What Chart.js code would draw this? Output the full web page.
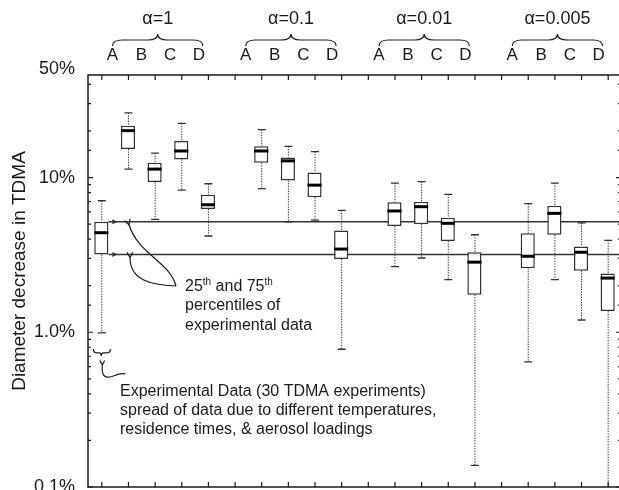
<!DOCTYPE html>
<html><head><meta charset="utf-8">
<script src="https://cdn.jsdelivr.net/npm/chart.js@4.4.1/dist/chart.umd.min.js"></script>
<style>html,body{margin:0;padding:0;overflow:hidden;background:#fff}#wrap{width:622px;height:490px;position:relative}</style>
</head><body><div id="wrap"><canvas id="c" width="622" height="490"></canvas></div>
<script>
// ---- data (percent) ----
const categories = ['Exp', 'A','B','C','D', '', 'A','B','C','D', '', 'A','B','C','D', '', 'A','B','C','D'];
const groupLabels = ['α=1', 'α=0.1', 'α=0.01', 'α=0.005'];
const letterLabels = ['A', 'B', 'C', 'D'];
const yTickValues = [0.1, 1, 10, 50];
const yTickTexts = ['0.1%', '1.0%', '10%', '50%'];
const whiskerHigh = [7.08, 26.2, 14.4, 22.4, 9.12, null, 20.4, 15.9, 14.7, 6.14, null, 9.21, 9.40, 7.79, 4.27, null, 6.78, 9.21, 5.09, 3.93];
const q3          = [5.18, 21.6, 12.45, 17.25, 7.73, null, 15.96, 13.47, 10.79, 4.54, null, 6.92, 6.98, 5.50, 3.29, null, 4.36, 6.57, 3.59, 2.40];
const median      = [4.40, 20.1, 11.34, 14.85, 6.67, null, 14.85, 12.82, 8.93, 3.45, null, 6.08, 6.48, 5.06, 2.84, null, 3.10, 5.87, 3.29, 2.24];
const q1          = [3.18, 15.31, 9.35, 13.10, 6.27, null, 12.45, 9.58, 7.45, 2.98, null, 4.86, 4.99, 3.89, 1.75, null, 2.59, 4.27, 2.50, 1.37];
const whiskerLow  = [0.99, 11.34, 5.37, 8.29, 4.19, null, 8.47, 5.18, 5.30, 0.777, null, 2.66, 3.02, 2.19, 0.138, null, 0.643, 2.19, 1.20, 0.08];
const yMin = 0.1, yMax = 46;
const refUpper = q3[0];  // 75th percentile of experimental data
const refLower = q1[0];  // 25th percentile of experimental data

const FONT = '"Liberation Sans", Arial, sans-serif';
const INK = '#1a1a1a';

function brace(ctx, x0, x1, yb, h) {
  const xm = (x0 + x1) / 2, r = h / 2;
  ctx.beginPath();
  ctx.moveTo(x0, yb);
  ctx.quadraticCurveTo(x0, yb - r, x0 + r * 1.6, yb - r);
  ctx.lineTo(xm - r * 1.6, yb - r);
  ctx.quadraticCurveTo(xm, yb - r, xm, yb - 2 * r);
  ctx.quadraticCurveTo(xm, yb - r, xm + r * 1.6, yb - r);
  ctx.lineTo(x1 - r * 1.6, yb - r);
  ctx.quadraticCurveTo(x1, yb - r, x1, yb);
  ctx.stroke();
}
function arrowHead(ctx, tx, ty, ang, len) {
  ctx.beginPath();
  ctx.moveTo(tx + len * Math.cos(ang + 0.5), ty + len * Math.sin(ang + 0.5));
  ctx.lineTo(tx, ty);
  ctx.lineTo(tx + len * Math.cos(ang - 0.5), ty + len * Math.sin(ang - 0.5));
  ctx.stroke();
}
function supText(ctx, parts, x, y, size) {
  let cx = x;
  parts.forEach(p => {
    if (p.sup) {
      ctx.font = Math.round(size * 0.62) + 'px ' + FONT;
      ctx.fillText(p.t, cx, y - size * 0.38);
    } else {
      ctx.font = size + 'px ' + FONT;
      ctx.fillText(p.t, cx, y);
    }
    cx += ctx.measureText(p.t).width;
  });
}

const boxPlugin = {
  id: 'boxExtras',
  beforeDatasetsDraw(chart) {
    const { ctx, chartArea: a, scales: { x, y } } = chart;
    const half = chart.getDatasetMeta(0).data[1].width / 2;
    ctx.save();
    ctx.beginPath(); ctx.rect(a.left, a.top, a.right - a.left, a.bottom - a.top); ctx.clip();
    // reference lines from experimental quartiles
    const sx = x.getPixelForValue(0) + half;
    [refUpper, refLower].forEach(v => {
      const yy = y.getPixelForValue(v);
      ctx.strokeStyle = '#333'; ctx.lineWidth = 1.4; ctx.setLineDash([]);
      ctx.beginPath(); ctx.moveTo(sx, yy); ctx.lineTo(a.right, yy); ctx.stroke();
      ctx.fillStyle = '#333';
      ctx.beginPath(); ctx.moveTo(sx + 9, yy); ctx.lineTo(sx + 4, yy - 2.5); ctx.lineTo(sx + 4, yy + 2.5); ctx.closePath(); ctx.fill();
    });
    // whiskers
    for (let i = 0; i < categories.length; i++) {
      if (q1[i] == null) continue;
      const cx = x.getPixelForValue(i);
      const yHi = y.getPixelForValue(whiskerHigh[i]), yQ3 = y.getPixelForValue(q3[i]);
      const yQ1 = y.getPixelForValue(q1[i]), yLo = y.getPixelForValue(whiskerLow[i]);
      ctx.strokeStyle = '#333'; ctx.lineWidth = 1; ctx.setLineDash([1.3, 1.3]);
      ctx.beginPath(); ctx.moveTo(cx + 0.5, yHi); ctx.lineTo(cx + 0.5, yQ3); ctx.moveTo(cx + 0.5, yQ1); ctx.lineTo(cx + 0.5, yLo); ctx.stroke();
      ctx.setLineDash([]); ctx.lineWidth = 1.3;
      ctx.beginPath(); ctx.moveTo(cx - 3.5, yHi); ctx.lineTo(cx + 4.5, yHi); ctx.moveTo(cx - 3.5, yLo); ctx.lineTo(cx + 4.5, yLo); ctx.stroke();
    }
    ctx.restore();
  },
  afterDatasetsDraw(chart) {
    const { ctx, chartArea: a, scales: { x, y } } = chart;
    const half = chart.getDatasetMeta(0).data[1].width / 2;
    ctx.save();
    // medians
    ctx.strokeStyle = '#000'; ctx.lineWidth = 3;
    for (let i = 0; i < categories.length; i++) {
      if (median[i] == null) continue;
      const cx = x.getPixelForValue(i), ym = y.getPixelForValue(median[i]);
      ctx.beginPath(); ctx.moveTo(cx - half, ym); ctx.lineTo(cx + half, ym); ctx.stroke();
    }
    // frame
    ctx.strokeStyle = INK; ctx.lineWidth = 1.5;
    ctx.strokeRect(a.left, a.top, a.right - a.left, a.bottom - a.top);
    // category ticks (top & bottom, inward)
    ctx.lineWidth = 1.2;
    for (let i = 0; i < categories.length; i++) {
      const cx = x.getPixelForValue(i) + 0.5;
      ctx.beginPath();
      ctx.moveTo(cx, a.top); ctx.lineTo(cx, a.top + 5);
      ctx.moveTo(cx, a.bottom); ctx.lineTo(cx, a.bottom - 5);
      ctx.stroke();
    }
    // log ticks (left & right, inward)
    y.ticks.forEach(t => {
      if (t.value < yMin || t.value >= yMax) return;
      const yy = y.getPixelForValue(t.value);
      const lg = Math.log10(t.value);
      const major = Math.abs(lg - Math.round(lg)) < 1e-6;
      const len = major ? 5 : 3;
      ctx.beginPath();
      ctx.moveTo(a.left, yy); ctx.lineTo(a.left + len, yy);
      ctx.moveTo(a.right, yy); ctx.lineTo(a.right - len, yy);
      ctx.stroke();
    });
    ctx.restore();
  },
  afterDraw(chart) {
    const { ctx, chartArea: a, scales: { x, y } } = chart;
    ctx.save();
    ctx.fillStyle = INK; ctx.strokeStyle = INK;
    // y title
    ctx.save();
    ctx.translate(20, 271); ctx.rotate(-Math.PI / 2);
    ctx.font = '19px ' + FONT; ctx.textAlign = 'center'; ctx.textBaseline = 'middle';
    ctx.fillText('Diameter decrease in TDMA', 0, 0);
    ctx.restore();
    // top group labels
    const step = 1.08, off = 0.42;
    ctx.textAlign = 'center'; ctx.textBaseline = 'middle';
    groupLabels.forEach((g, gi) => {
      const base = gi * 5 + off;
      letterLabels.forEach((L, li) => {
        ctx.font = '17px ' + FONT;
        ctx.fillText(L, x.getPixelForValue(base + li * step), 55);
      });
      const xA = x.getPixelForValue(base), xD = x.getPixelForValue(base + 3 * step) + 4;
      ctx.lineWidth = 1.2;
      brace(ctx, xA, xD, 46, 12);
      ctx.font = '18px ' + FONT;
      ctx.fillText(g, (xA + xD) / 2, 19);
    });
    // annotation: percentiles
    ctx.textAlign = 'left'; ctx.textBaseline = 'alphabetic';
    supText(ctx, [{ t: '25' }, { t: 'th', sup: 1 }, { t: ' and 75' }, { t: 'th', sup: 1 }], 185, 291, 16);
    ctx.font = '16px ' + FONT;
    ctx.fillText('percentiles of', 185, 310);
    ctx.fillText('experimental data', 185, 330);
    const yU = y.getPixelForValue(refUpper), yL = y.getPixelForValue(refLower);
    ctx.lineWidth = 1.2;
    ctx.beginPath(); ctx.moveTo(176, 286);
    ctx.bezierCurveTo(170, 262, 138, 254, 129, yU + 3); ctx.stroke();
    arrowHead(ctx, 129, yU + 3, -1.9, 6);
    ctx.beginPath(); ctx.moveTo(176, 286);
    ctx.bezierCurveTo(150, 285, 130, 280, 130, yL + 3); ctx.stroke();
    arrowHead(ctx, 130, yL + 3, -1.6, 6);
    // annotation: experimental data
    const ex = x.getPixelForValue(0);
    const yLo0 = y.getPixelForValue(whiskerLow[0]);
    ctx.beginPath();
    ctx.moveTo(ex - 8, yLo0 + 16);
    ctx.quadraticCurveTo(ex - 8, yLo0 + 20, ex - 4, yLo0 + 20);
    ctx.lineTo(ex - 2, yLo0 + 20);
    ctx.quadraticCurveTo(ex, yLo0 + 20, ex, yLo0 + 23);
    ctx.quadraticCurveTo(ex, yLo0 + 20, ex + 2, yLo0 + 20);
    ctx.lineTo(ex + 5, yLo0 + 20);
    ctx.quadraticCurveTo(ex + 9, yLo0 + 20, ex + 9, yLo0 + 16);
    ctx.stroke();
    ctx.beginPath(); ctx.moveTo(ex + 1, yLo0 + 32);
    ctx.bezierCurveTo(ex, yLo0 + 44, ex + 4, yLo0 + 46, ex + 12, yLo0 + 43);
    ctx.quadraticCurveTo(ex + 20, yLo0 + 40, ex + 24, yLo0 + 41); ctx.stroke();
    arrowHead(ctx, ex + 1, yLo0 + 32, -1.6, 5);
    ctx.font = '16px ' + FONT;
    ctx.fillText('Experimental Data (30 TDMA experiments)', 120, 396);
    ctx.fillText('spread of data due to different temperatures,', 120, 415);
    ctx.fillText('residence times, & aerosol loadings', 120, 434);
    ctx.restore();
  }
};

new Chart(document.getElementById('c'), {
  type: 'bar',
  data: {
    labels: categories,
    datasets: [{
      data: q1.map((v, i) => v == null ? null : [v, q3[i]]),
      backgroundColor: '#ffffff',
      borderColor: '#333',
      borderWidth: 1.5,
      borderSkipped: false,
      categoryPercentage: 1,
      barPercentage: 0.53
    }]
  },
  options: {
    responsive: false,
    animation: false,
    events: [],
    layout: { padding: { left: 0, top: 75, right: 1, bottom: 3 } },
    plugins: { legend: { display: false }, tooltip: { enabled: false } },
    scales: {
      x: { display: false, offset: true },
      y: {
        type: 'logarithmic', min: yMin, max: yMax,
        grid: { display: false }, border: { display: false },
        afterBuildTicks: (s) => {
          yTickValues.forEach(v => { if (!s.ticks.some(t => Math.abs(t.value - v) / v < 1e-6)) s.ticks.push({ value: v }); });
        },
        ticks: {
          autoSkip: false, padding: 5, color: INK,
          font: { family: FONT, size: 18 },
          callback: (v) => {
            const k = yTickValues.findIndex(t => Math.abs(t - v) / t < 1e-6);
            return k >= 0 ? yTickTexts[k] : '';
          }
        },
        afterFit: (s) => { s.width = 88; s.paddingTop = 0; s.paddingBottom = 0; }
      }
    }
  },
  plugins: [boxPlugin]
});
</script></body></html>
